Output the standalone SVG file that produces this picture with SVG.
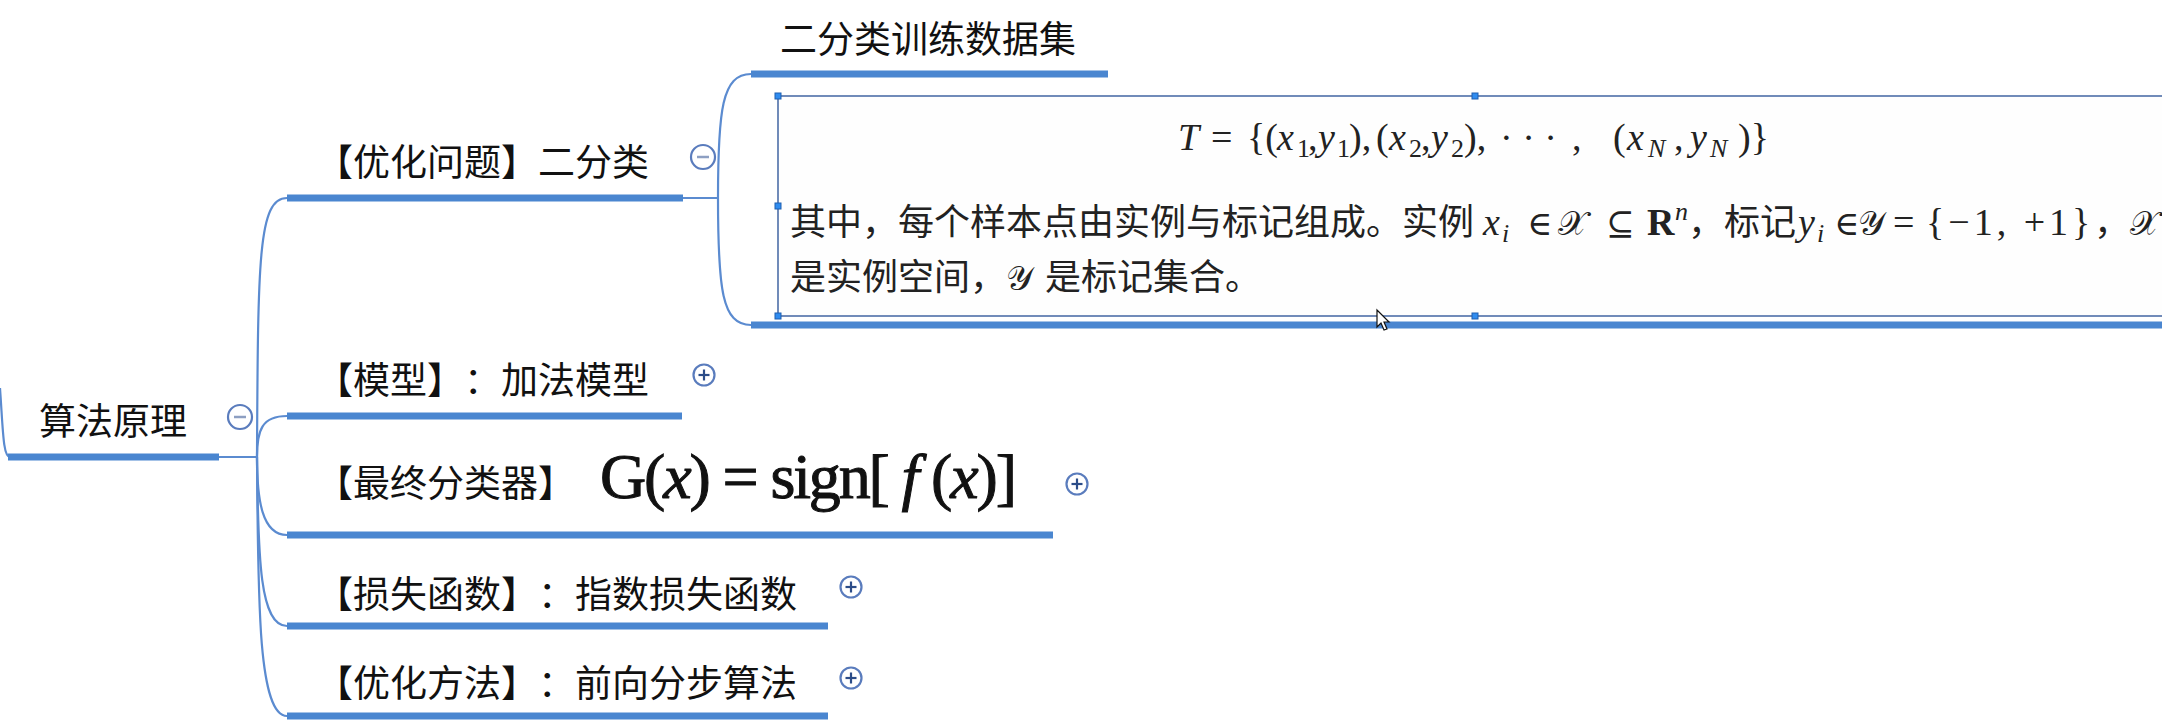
<svg xmlns="http://www.w3.org/2000/svg" width="2162" height="724" viewBox="0 0 2162 724">
<style>
text{text-spacing-trim:space-all}
.lbl{font-family:"Noto Sans CJK SC","Noto Sans",sans-serif;font-size:37px;fill:#111}
.ul{stroke:#4a86d0;stroke-width:7;fill:none}
.cn{stroke:#5b8bd0;stroke-width:2.2;fill:none}
.cir{fill:#fff;stroke:#5a7cbd;stroke-width:2.2}
.minus{stroke:#8d9fc2;stroke-width:2.5}
.plus{stroke:#2b4c88;stroke-width:2.2}
.bk{font-family:"Noto Sans CJK SC",sans-serif;font-size:36px;fill:#222}
.m{font-family:"Liberation Serif",serif;font-size:38px;fill:#222}
.mi{font-family:"Liberation Serif",serif;font-size:38px;font-style:italic;fill:#222}
.sb{font-family:"Liberation Serif",serif;font-size:26px;font-style:italic;fill:#222}
.sbu{font-family:"Liberation Serif",serif;font-size:26px;fill:#222}
.sym{font-family:"DejaVu Serif","DejaVu Sans",serif;font-size:34px;fill:#222}
.hd{fill:#2f8cf0;stroke:#1f5fb0;stroke-width:1}
</style>
<rect width="2162" height="724" fill="#fff"/>

<g id="connectors">
  <path class="cn" d="M0,388 C3,430 3,457 10,457"/>
  <path class="cn" d="M219,457 L257,457"/>
  <path class="cn" d="M257,457 C258,260 258,198 287,198"/>
  <path class="cn" d="M257,457 C257,430 262,416 287,416"/>
  <path class="cn" d="M257,457 C257,500 262,535 287,535"/>
  <path class="cn" d="M257,457 C258,560 260,626 287,626"/>
  <path class="cn" d="M257,457 C258,600 258,716 287,716"/>
  <path class="cn" d="M683,198 L718,198"/>
  <path class="cn" d="M718,198 C718,110 722,74 751,74"/>
  <path class="cn" d="M718,198 C718,290 722,325 751,325"/>
</g>

<g id="root">
  <line class="ul" x1="8" y1="457" x2="219" y2="457"/>
  <text class="lbl" x="39" y="435">算法原理</text>
  <circle class="cir" cx="240" cy="417" r="12"/>
  <line class="minus" x1="234" y1="417" x2="246" y2="417"/>
</g>

<g id="n-binary">
  <line class="ul" x1="287" y1="198" x2="683" y2="198"/>
  <text class="lbl" x="316" y="176">【优化问题】二分类</text>
  <circle class="cir" cx="703" cy="157" r="12"/>
  <line class="minus" x1="697" y1="157" x2="709" y2="157"/>
</g>

<g id="n-model">
  <line class="ul" x1="287" y1="416" x2="682" y2="416"/>
  <text class="lbl" y="394"><tspan x="316">【模型】</tspan><tspan x="464">：</tspan><tspan x="501">加法模型</tspan></text>
  <circle class="cir" cx="704" cy="375" r="10.5"/>
  <line class="plus" x1="698.5" y1="375" x2="709.5" y2="375"/>
  <line class="plus" x1="704" y1="369.5" x2="704" y2="380.5"/>
</g>

<g id="n-classifier">
  <line class="ul" x1="287" y1="535" x2="1053" y2="535"/>
  <text class="lbl" x="316" y="497">【最终分类器】</text>
  <text x="600" y="498" font-family="Liberation Serif,serif" font-size="64" fill="#111" stroke="#111" stroke-width="1" textLength="417" lengthAdjust="spacing">G(<tspan font-style="italic">x</tspan>) = sign[ <tspan font-style="italic">f</tspan> (<tspan font-style="italic">x</tspan>)]</text>
  <circle class="cir" cx="1077" cy="484" r="10.5"/>
  <line class="plus" x1="1071.5" y1="484" x2="1082.5" y2="484"/>
  <line class="plus" x1="1077" y1="478.5" x2="1077" y2="489.5"/>
</g>

<g id="n-loss">
  <line class="ul" x1="287" y1="626" x2="828" y2="626"/>
  <text class="lbl" y="608"><tspan x="316">【损失函数】</tspan><tspan x="538">：</tspan><tspan x="575">指数损失函数</tspan></text>
  <circle class="cir" cx="851" cy="587" r="10.5"/>
  <line class="plus" x1="845.5" y1="587" x2="856.5" y2="587"/>
  <line class="plus" x1="851" y1="581.5" x2="851" y2="592.5"/>
</g>

<g id="n-method">
  <line class="ul" x1="287" y1="716" x2="828" y2="716"/>
  <text class="lbl" y="697"><tspan x="316">【优化方法】</tspan><tspan x="538">：</tspan><tspan x="575">前向分步算法</tspan></text>
  <circle class="cir" cx="851" cy="678" r="10.5"/>
  <line class="plus" x1="845.5" y1="678" x2="856.5" y2="678"/>
  <line class="plus" x1="851" y1="672.5" x2="851" y2="683.5"/>
</g>

<g id="n-dataset">
  <line class="ul" x1="751" y1="74" x2="1108" y2="74"/>
  <text class="lbl" x="780" y="53">二分类训练数据集</text>
</g>

<g id="n-image">
  <line class="ul" x1="751" y1="325" x2="2162" y2="325"/>
  <rect x="778" y="96" width="1400" height="220" fill="#fefefe" stroke="#4e6fa8" stroke-width="1.6"/>
  <text>
    <tspan class="mi" x="1178" y="150">T</tspan>
    <tspan class="m" x="1211" y="150">=</tspan>
    <tspan class="m" x="1247" y="150">{(</tspan>
    <tspan class="mi" x="1277" y="150">x</tspan><tspan class="sbu" x="1297" y="157">1</tspan>
    <tspan class="m" x="1308" y="150">,</tspan>
    <tspan class="mi" x="1318" y="150">y</tspan><tspan class="sbu" x="1337" y="157">1</tspan>
    <tspan class="m" x="1349" y="150">),</tspan>
    <tspan class="m" x="1376" y="150">(</tspan>
    <tspan class="mi" x="1389" y="150">x</tspan><tspan class="sbu" x="1409" y="157">2</tspan>
    <tspan class="m" x="1421" y="150">,</tspan>
    <tspan class="mi" x="1431" y="150">y</tspan><tspan class="sbu" x="1451" y="157">2</tspan>
    <tspan class="m" x="1464" y="150">),</tspan>
    <tspan class="m" x="1500" y="150">· · ·</tspan>
    <tspan class="m" x="1572" y="150">,</tspan>
    <tspan class="m" x="1613" y="150">(</tspan>
    <tspan class="mi" x="1627" y="150">x</tspan><tspan class="sb" x="1648" y="157">N</tspan>
    <tspan class="m" x="1674" y="150">,</tspan>
    <tspan class="mi" x="1690" y="150">y</tspan><tspan class="sb" x="1710" y="157">N</tspan>
    <tspan class="m" x="1738" y="150">)}</tspan>
  </text>
  <text>
    <tspan class="bk" x="790" y="235">其中，每个样本点由实例与标记组成。实例</tspan>
    <tspan class="mi" x="1483" y="235">x</tspan><tspan class="sb" x="1502" y="242">i</tspan>
    <tspan class="sym" x="1527" y="235">∈</tspan>
    <tspan class="sym" x="1558" y="235">𝒳</tspan>
    <tspan class="sym" x="1606" y="235">⊆</tspan>
    <tspan class="m" x="1647" y="235" font-weight="bold">R</tspan><tspan class="sb" x="1675" y="220">n</tspan>
    <tspan class="bk" x="1688" y="235">，标记</tspan>
    <tspan class="mi" x="1798" y="235">y</tspan><tspan class="sb" x="1817" y="242">i</tspan>
    <tspan class="sym" x="1834" y="235">∈</tspan>
    <tspan class="sym" x="1858" y="235">𝒴</tspan>
    <tspan class="m" x="1893" y="235">=</tspan>
    <tspan class="m" x="1926" y="235" font-size="40" letter-spacing="4">{−1, +1}</tspan>
    <tspan class="bk" x="2094" y="235">，</tspan>
    <tspan class="sym" x="2130" y="235">𝒳</tspan>
  </text>
  <text>
    <tspan class="bk" x="790" y="290">是实例空间，</tspan>
    <tspan class="sym" x="1006" y="290">𝒴</tspan>
    <tspan class="bk" x="1045" y="290">是标记集合。</tspan>
  </text>
  <rect class="hd" x="775" y="93" width="6" height="6"/>
  <rect class="hd" x="775" y="203" width="6" height="6"/>
  <rect class="hd" x="775" y="313" width="6" height="6"/>
  <rect class="hd" x="1472" y="93" width="6" height="6"/>
  <rect class="hd" x="1472" y="313" width="6" height="6"/>
  <path d="M1377,310 L1377,327 L1381,323 L1384,330 L1387,329 L1384,322 L1389,322 Z" fill="#fff" stroke="#111" stroke-width="1.2"/>
</g>
</svg>
